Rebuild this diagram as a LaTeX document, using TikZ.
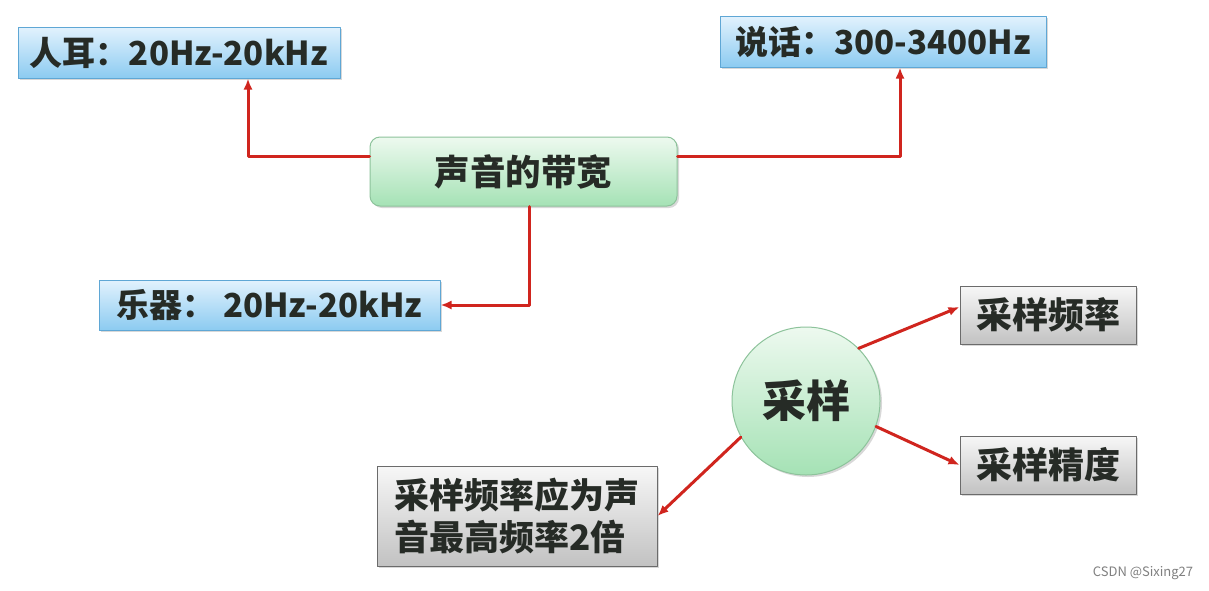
\documentclass[tikz,border=0pt]{standalone}
\usepackage{fontspec}
\newfontfamily\cjk{Noto Sans CJK SC}
\usetikzlibrary{arrows.meta,shadows}
\definecolor{linkred}{HTML}{D0251E}
\definecolor{textdark}{HTML}{262B26}
\definecolor{blueedge}{HTML}{5FA7D5}
\definecolor{bluetop}{HTML}{E2F2FD}
\definecolor{bluebot}{HTML}{8CCBF1}
\definecolor{greenedge}{HTML}{8DC39B}
\definecolor{greentop}{HTML}{EDF9EF}
\definecolor{greenbot}{HTML}{A5E2B5}
\definecolor{grayedge}{HTML}{6B6B6B}
\definecolor{graytop}{HTML}{F7F7F7}
\definecolor{graybot}{HTML}{C2C2C2}

\begin{document}
\begin{tikzpicture}[x=1pt,y=-1pt,>={Latex[length=11pt,width=9pt]},line cap=round,line join=round,
  shade/.style={drop shadow={shadow xshift=2pt,shadow yshift=-2pt,opacity=0.3}},
  bluebox/.style={shade,draw=blueedge,line width=1pt,top color=bluetop,bottom color=bluebot,
    inner sep=0pt,text=textdark,font={\cjk\bfseries\fontsize{33pt}{38pt}\selectfont}},
  greenbox/.style={shade,draw=greenedge,line width=1pt,top color=greentop,bottom color=greenbot,
    inner sep=0pt,text=textdark,font={\cjk\bfseries\fontsize{35.5pt}{40pt}\selectfont}},
  graybox/.style={shade,draw=grayedge,line width=1pt,top color=graytop,bottom color=graybot,
    inner sep=0pt,text=textdark,font={\cjk\bfseries\fontsize{36pt}{42pt}\selectfont}},
  link/.style={->,draw=linkred,line width=3pt}]
  \useasboundingbox[fill=white] (0,0) rectangle (1209,590);

  % bandwidth branch
  \node[greenbox,rounded corners=10pt,minimum width=307pt,minimum height=69pt] (band) at (523.5,171.5) {声音的带宽};
  \node[bluebox,minimum width=322pt,minimum height=51pt] (ear) at (179,52.5) {人耳：20Hz-20kHz};
  \node[bluebox,minimum width=326pt,minimum height=51pt] (speech) at (883,41.5) {说话：300-3400Hz};
  \node[bluebox,minimum width=341pt,minimum height=50pt] (instr) at (269.5,305) {乐器： 20Hz-20kHz};

  \draw[link] ([yshift=15pt]band.west) -| ([xshift=69pt]ear.south);
  \draw[link] ([yshift=15pt]band.east) -| ([xshift=17pt]speech.south);
  \draw[link] ([xshift=6pt]band.south) |- (instr.east);

  % sampling branch
  \node[greenbox,circle,minimum size=148pt,font={\cjk\bfseries\fontsize{44pt}{50pt}\selectfont}] (samp) at (806,401) {采样};
  \node[graybox,minimum width=176pt,minimum height=58pt] (freq) at (1048,315) {采样频率};
  \node[graybox,minimum width=176pt,minimum height=58pt] (prec) at (1048,465) {采样精度};
  \node[graybox,minimum width=280pt,minimum height=100pt,align=left,
    font={\cjk\bfseries\fontsize{35pt}{42pt}\selectfont}] (rule) at (517,516) {采样频率应为声\\音最高频率2倍};

  \draw[link] (samp.45) -- ([yshift=8pt]freq.west);
  \draw[link] (samp.-20) -- (prec.west);
  \draw[link] (samp.209) -- (rule.east);

  \node[text=gray,font={\cjk\fontsize{13pt}{15pt}\selectfont}] (mark) at (1143,573) {CSDN @Sixing27};
\end{tikzpicture}
\end{document}
